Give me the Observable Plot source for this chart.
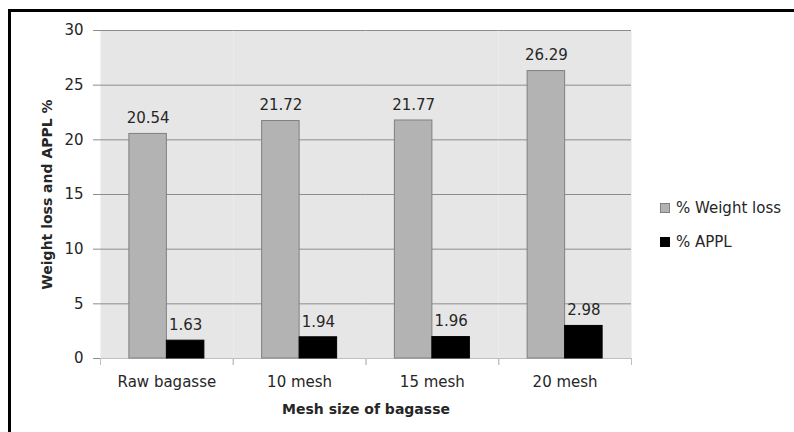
<!DOCTYPE html>
<html>
<head>
<meta charset="utf-8">
<script src="https://cdn.jsdelivr.net/npm/d3@7"></script>
<script src="https://cdn.jsdelivr.net/npm/@observablehq/plot@0.6"></script>
<style>
  html, body { margin: 0; padding: 0; background: #fff; }
  #wrap { position: relative; width: 794px; height: 432px; overflow: hidden; font-family: "DejaVu Sans", sans-serif; }
  #chart { position: absolute; left: 0; top: 0; }
  #border { position: absolute; left: 8px; top: 9px; width: 800px; height: 440px; border-top: 3px solid #000; border-left: 3px solid #000; pointer-events: none; }
  #legend { position: absolute; left: 660px; top: 191px; font-size: 15px; color: #262626; }
  .item { display: flex; align-items: center; height: 34px; }
  .sw { width: 10px; height: 10px; margin-right: 6px; box-sizing: border-box; }
  svg [aria-label="y-axis label"] text, svg [aria-label="fx-axis label"] text { font-weight: bold; font-size: 14px; }
</style>
</head>
<body>
<div id="wrap">
  <div id="chart"></div>
  <div id="legend"></div>
  <div id="border"></div>
</div>
<script>
const categories = ["Raw bagasse", "10 mesh", "15 mesh", "20 mesh"];
const seriesNames = ["% Weight loss", "% APPL"];
const weightLoss = [20.54, 21.72, 21.77, 26.29];
const appl = [1.63, 1.94, 1.96, 2.98];
const yTicks = [0, 5, 10, 15, 20, 25, 30];
const xTitle = "Mesh size of bagasse";
const yTitle = "Weight loss and APPL %";
const fills = ["#b3b3b3", "#000000"];
const strokes = ["#808080", "#000000"];

const seriesValues = [weightLoss, appl];
const data = [];
categories.forEach((c, i) => {
  seriesNames.forEach((s, j) => data.push({category: c, series: s, value: seriesValues[j][i]}));
});

const W = 794, H = 432, mT = 30, mB = 74, mL = 100, mR = 163;
const plotH = H - mT - mB;

const plot = Plot.plot({
  width: W,
  height: H,
  marginTop: mT,
  marginBottom: mB,
  marginLeft: mL,
  marginRight: mR,
  style: {fontFamily: "DejaVu Sans, sans-serif", fontSize: "15px", background: "transparent", color: "#262626"},
  fx: {domain: categories, padding: 0, round: false},
  x: {domain: seriesNames, paddingInner: 0, paddingOuter: 0.77, round: false, axis: null},
  y: {domain: [0, 30]},
  marks: [
    Plot.frame({fill: "#e6e6e6", stroke: null}),
    Plot.ruleY(yTicks.filter(d => d > 0), {stroke: "#8c8c8c", strokeWidth: 1}),
    Plot.ruleY([0], {stroke: "#bfbfbf", strokeWidth: 1}),
    Plot.frame({anchor: "left", stroke: "#bfbfbf", insetTop: plotH, insetBottom: -6}),
    Plot.frame({anchor: "right", stroke: "#bfbfbf", insetTop: plotH, insetBottom: -6}),
    Plot.axisY({ticks: [], tickSize: 0, line: true, stroke: "#bfbfbf", label: null}),
    ...seriesNames.map((s, j) => Plot.barY(data.filter(d => d.series === s), {
      fx: "category", x: "series", y: "value", fill: fills[j], stroke: strokes[j], strokeWidth: 1
    })),
    Plot.text(data, {
      fx: "category", x: "series", y: "value",
      text: d => d.value.toFixed(2), dy: -15.5, lineAnchor: "middle", fill: "#262626"
    }),
    Plot.axisY({
      ticks: yTicks, tickSize: 7, tickPadding: 10, stroke: "#8c8c8c", fill: "#262626",
      tickFormat: d => String(d),
      label: yTitle, labelArrow: "none", labelAnchor: "center", labelOffset: 58
    }),
    Plot.axisFx({
      anchor: "bottom", tickSize: 0, tickPadding: 18, fill: "#262626",
      label: xTitle, labelAnchor: "center", labelOffset: 55
    })
  ]
});
// strip any arrow glyph that an older Plot build may still add to the label
plot.querySelectorAll('[aria-label="y-axis label"] text, [aria-label="fx-axis label"] text').forEach(t => {
  t.textContent = t.textContent.replace(/\s*[↑↓→←]\s*/g, "").trim();
});
document.getElementById("chart").appendChild(plot);

const legend = document.getElementById("legend");
seriesNames.forEach((s, j) => {
  const item = document.createElement("div");
  item.className = "item";
  const sw = document.createElement("div");
  sw.className = "sw";
  sw.style.background = fills[j];
  sw.style.border = "1px solid " + strokes[j];
  const t = document.createElement("span");
  t.textContent = s;
  item.appendChild(sw);
  item.appendChild(t);
  legend.appendChild(item);
});
</script>
</body>
</html>
